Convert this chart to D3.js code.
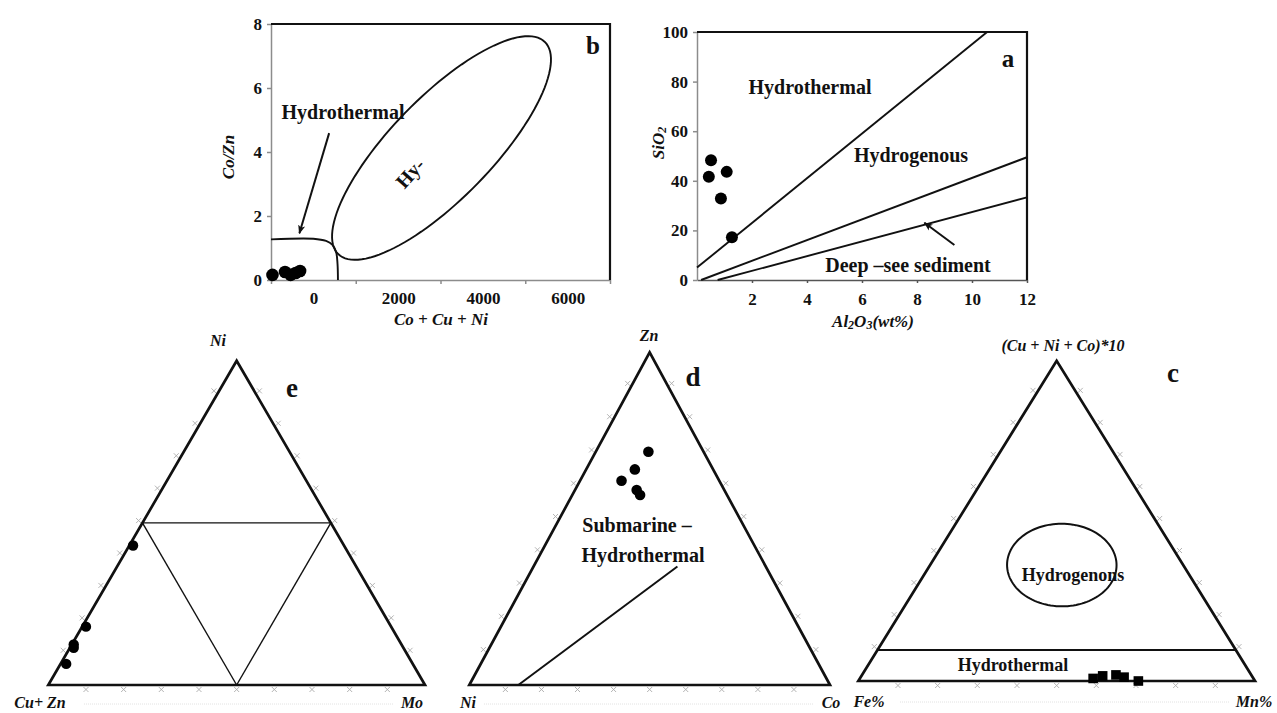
<!DOCTYPE html>
<html><head><meta charset="utf-8">
<script src="https://cdn.jsdelivr.net/npm/d3@7"></script>
<style>
body{margin:0;background:#fff;}
svg{display:block;font-family:"Liberation Serif","Times New Roman",serif;}
</style></head><body>
<svg id="chart" width="1277" height="713"></svg>
<script>
// ---------- Panel b : Co/Zn vs Co+Cu+Ni ----------
const bSumCoCuNi = [-965, -669, -538, -420, -314];
const bCoZn = [0.16, 0.25, 0.16, 0.22, 0.28];
const bXTickValues = [-1000, 1000, 3000, 5000, 7000];
const bXTickLabels = [0, 2000, 4000, 6000];
const bYTickLabels = [0, 2, 4, 6, 8];
const bHydrothermalBoundary = [[-1000,1.27],[0,1.29],[300,1.22],[450,1.1],[540,0.85],[570,0.5],[580,0]];
const bHydrogenousCenter = [3024, 4.125];
const bHydrogenousMajorTip = [5462, 7.44];
const bHydrogenousMinorTip = [2170, 5.23];
const bArrow = [[372, 4.59], [-330, 1.46]];

// ---------- Panel a : SiO2 vs Al2O3 ----------
const aAl2O3 = [0.51, 0.43, 1.08, 0.87, 1.27];
const aSiO2 = [48.3, 41.6, 43.6, 32.9, 17.2];
const aXTickLabels = [2, 4, 6, 8, 10, 12];
const aYTickLabels = [0, 20, 40, 60, 80, 100];
const aBoundaries = [[[0, 5], [10.55, 100]], [[0.15, 0], [12, 49.5]], [[0.75, 0], [12, 33.3]]];
const aArrow = [[9.36, 14.1], [8.27, 23.1]];

// ---------- Panel e : Cu+Zn – Ni – Mo ----------
const eApices = ["Cu+ Zn", "Ni", "Mo"];
const eCuZn = [0.56, 0.81, 0.87, 0.875, 0.92];
const eNi   = [0.43, 0.18, 0.125, 0.115, 0.065];
const eMo   = [0.01, 0.01, 0.005, 0.01, 0.015];
const eFieldLines = [[[0.5,0.5,0],[0,0.5,0.5]], [[0.5,0.5,0],[0.5,0,0.5]], [[0,0.5,0.5],[0.5,0,0.5]]];

// ---------- Panel d : Ni – Zn – Co ----------
const dApices = ["Ni", "Zn", "Co"];
const dNi = [0.153, 0.217, 0.271, 0.243, 0.241];
const dZn = [0.701, 0.648, 0.614, 0.586, 0.571];
const dCo = [0.146, 0.135, 0.115, 0.171, 0.188];
const dFieldLine = [[0.864, 0, 0.136], [0.245, 0.356, 0.399]];

// ---------- Panel c : Fe – (Cu+Ni+Co)*10 – Mn ----------
const cApices = ["Fe%", "(Cu + Ni + Co)*10", "Mn%"];
const cFe  = [0.404, 0.376, 0.341, 0.324, 0.294];
const cCuNiCo = [0.008, 0.016, 0.019, 0.012, 0.0];
const cMn  = [0.588, 0.608, 0.640, 0.664, 0.706];
const cHydrothermalLimit = [[0.903, 0.097, 0], [0, 0.097, 0.903]];
const cHydrogenousCenter = [0.306, 0.362, 0.332];
const cHydrogenousRight  = [0.168, 0.362, 0.470];
const cHydrogenousTop    = [0.242, 0.491, 0.267];

// ================= drawing =================
const svg = d3.select("#chart");
const FONT = '"Liberation Serif","Times New Roman",serif';

function txt(g, x, y, s, o = {}) {
  const t = g.append("text").attr("x", x).attr("y", y)
    .attr("text-anchor", o.anchor || "middle")
    .attr("dominant-baseline", "central")
    .attr("font-family", FONT)
    .attr("font-size", o.size || 16)
    .attr("font-weight", o.weight || "bold")
    .attr("font-style", o.italic ? "italic" : "normal")
    .attr("fill", "#111");
  if (o.rotate !== undefined) t.attr("transform", `rotate(${o.rotate},${x},${y})`);
  t.text(s);
  return t;
}
function styleTicks(sel) {
  sel.selectAll("text").attr("font-family", FONT).attr("font-size", 17)
    .attr("font-weight", "bold").attr("fill", "#111");
}

svg.append("defs").append("marker").attr("id", "arr")
  .attr("viewBox", "0 0 10 10").attr("refX", 9).attr("refY", 5)
  .attr("markerWidth", 9).attr("markerHeight", 9).attr("orient", "auto-start-reverse")
  .attr("markerUnits", "userSpaceOnUse")
  .append("path").attr("d", "M0,1 L10,5 L0,9 L2.5,5 Z").attr("fill", "#111");

// ---------- Panel b ----------
{
  const x = d3.scaleLinear().domain([-1000, 7000]).range([271, 610]);
  const y = d3.scaleLinear().domain([0, 8]).range([280, 24]);
  const g = svg.append("g");
  const ax = g.append("g").attr("transform", "translate(0,280)")
    .call(d3.axisBottom(x).tickValues(bXTickValues).tickFormat("").tickSize(4).tickSizeOuter(0));
  ax.selectAll("path,line").attr("stroke", "#8c8c8c").attr("stroke-width", 1.5);
  const axl = g.append("g").attr("transform", "translate(0,280)")
    .call(d3.axisBottom(x).tickValues(bXTickLabels).tickFormat(d3.format("d")).tickSize(0).tickPadding(12));
  axl.select("path").remove();
  styleTicks(axl);
  const ay = g.append("g").attr("transform", "translate(271,0)")
    .call(d3.axisLeft(y).tickValues(bYTickLabels).tickSize(4).tickSizeOuter(0).tickPadding(5));
  ay.selectAll("path,line").attr("stroke", "#8c8c8c").attr("stroke-width", 1.5);
  styleTicks(ay);
  g.append("path").attr("d", `M${x(-1000)},${y(8)}H${x(7000)}V${y(0)}`)
    .attr("fill", "none").attr("stroke", "#111").attr("stroke-width", 2.2);
  g.append("path").attr("d", d3.line().x(d => x(d[0])).y(d => y(d[1])).curve(d3.curveCatmullRom)(bHydrothermalBoundary))
    .attr("fill", "none").attr("stroke", "#111").attr("stroke-width", 1.9);
  const ell = d3.range(0, 361, 3).map(a => {
    const r = a * Math.PI / 180;
    return [bHydrogenousCenter[0] + (bHydrogenousMajorTip[0] - bHydrogenousCenter[0]) * Math.cos(r) + (bHydrogenousMinorTip[0] - bHydrogenousCenter[0]) * Math.sin(r),
            bHydrogenousCenter[1] + (bHydrogenousMajorTip[1] - bHydrogenousCenter[1]) * Math.cos(r) + (bHydrogenousMinorTip[1] - bHydrogenousCenter[1]) * Math.sin(r)];
  });
  g.append("path").attr("d", d3.line().x(d => x(d[0])).y(d => y(d[1])).curve(d3.curveLinearClosed)(ell))
    .attr("fill", "none").attr("stroke", "#111").attr("stroke-width", 1.9);
  g.append("line").attr("x1", x(bArrow[0][0])).attr("y1", y(bArrow[0][1]))
    .attr("x2", x(bArrow[1][0])).attr("y2", y(bArrow[1][1]))
    .attr("stroke", "#111").attr("stroke-width", 2).attr("marker-end", "url(#arr)");
  g.selectAll("circle.b").data(bSumCoCuNi).join("circle")
    .attr("cx", d => x(d)).attr("cy", (d, i) => y(bCoZn[i])).attr("r", 6.3).attr("fill", "#000");
  txt(g, 343, 112, "Hydrothermal", { size: 20 });
  txt(g, 410, 173, "Hy-", { size: 20, rotate: -48 });
  txt(g, 593, 45, "b", { size: 25 });
  txt(g, 228, 157, "Co/Zn", { size: 17, italic: true, rotate: -90 });
  txt(g, 441, 319, "Co + Cu + Ni", { size: 17, italic: true });
}

// ---------- Panel a ----------
{
  const x = d3.scaleLinear().domain([0, 12]).range([697, 1027]);
  const y = d3.scaleLinear().domain([0, 100]).range([280, 32]);
  const g = svg.append("g");
  const ax = g.append("g").attr("transform", "translate(0,280)")
    .call(d3.axisBottom(x).tickValues(aXTickLabels).tickSize(3).tickSizeOuter(0).tickPadding(10));
  ax.selectAll("path,line").attr("stroke", "#555").attr("stroke-width", 1.5);
  styleTicks(ax);
  const ay = g.append("g").attr("transform", "translate(697,0)")
    .call(d3.axisLeft(y).tickValues(aYTickLabels).tickSize(4).tickSizeOuter(0).tickPadding(5));
  ay.selectAll("path,line").attr("stroke", "#8c8c8c").attr("stroke-width", 1.5);
  styleTicks(ay);
  g.append("path").attr("d", `M${x(0)},${y(100)}H${x(12)}V${y(0)}`)
    .attr("fill", "none").attr("stroke", "#111").attr("stroke-width", 2.2);
  aBoundaries.forEach(seg => {
    g.append("line").attr("x1", x(seg[0][0])).attr("y1", y(seg[0][1]))
      .attr("x2", x(seg[1][0])).attr("y2", y(seg[1][1]))
      .attr("stroke", "#111").attr("stroke-width", 1.9);
  });
  g.append("line").attr("x1", x(aArrow[0][0])).attr("y1", y(aArrow[0][1]))
    .attr("x2", x(aArrow[1][0])).attr("y2", y(aArrow[1][1]))
    .attr("stroke", "#111").attr("stroke-width", 2).attr("marker-end", "url(#arr)");
  g.selectAll("circle.a").data(aAl2O3).join("circle")
    .attr("cx", d => x(d)).attr("cy", (d, i) => y(aSiO2[i])).attr("r", 6).attr("fill", "#000");
  txt(g, 810, 87, "Hydrothermal", { size: 20 });
  txt(g, 911, 155, "Hydrogenous", { size: 20 });
  txt(g, 908, 265, "Deep \u2013see sediment", { size: 20 });
  txt(g, 1008, 58, "a", { size: 25 });
  const t1 = txt(g, 658, 143, "", { size: 17, italic: true, rotate: -90 });
  t1.append("tspan").text("SiO");
  t1.append("tspan").attr("font-size", 12).attr("dy", 4).text("2");
  const t2 = txt(g, 873, 321, "", { size: 17, italic: true });
  t2.append("tspan").text("Al");
  t2.append("tspan").attr("font-size", 12).attr("dy", 4).text("2");
  t2.append("tspan").attr("dy", -4).text("O");
  t2.append("tspan").attr("font-size", 12).attr("dy", 4).text("3");
  t2.append("tspan").attr("dy", -4).text("(wt%)");
}

// ---------- Ternary helper ----------
function ternary(geom) {
  const xs = d3.scaleLinear().domain([0, 1]).range([geom.left, geom.right]);
  const ys = d3.scaleLinear().domain([0, 1]).range([geom.base, geom.top]);
  const p = c => { const s = c[0] + c[1] + c[2]; const t = c[1] / s, r = c[2] / s; return [xs(r + t / 2), ys(t)]; };
  const g = svg.append("g");
  const ticks = d3.range(1, 10).map(i => i / 10);
  const A = [1, 0, 0], B = [0, 1, 0], C = [0, 0, 1];
  const edges = [[A, B], [B, C], [A, C]];
  const centroid = p([1, 1, 1]);
  edges.forEach(([u, v]) => {
    ticks.forEach(f => {
      const c = [0, 1, 2].map(k => u[k] * (1 - f) + v[k] * f);
      const [px, py] = p(c);
      const dx = px - centroid[0], dy = py - centroid[1];
      const [ax_, ay_] = p(u), [bx_, by_] = p(v);
      let nx = -(by_ - ay_), ny = bx_ - ax_;
      const nl = Math.hypot(nx, ny); nx /= nl; ny /= nl;
      if (nx * dx + ny * dy < 0) { nx = -nx; ny = -ny; }
      const ox = px + nx * 4.5, oy = py + ny * 4.5;
      g.append("path")
        .attr("d", `M${ox - 2.5},${oy - 2.5}L${ox + 2.5},${oy + 2.5}M${ox - 2.5},${oy + 2.5}L${ox + 2.5},${oy - 2.5}`)
        .attr("stroke", "#ababab").attr("stroke-width", 0.9);
    });
  });
  g.append("path").attr("d", d3.line()([p(A), p(B), p(C)]) + "Z")
    .attr("fill", "none").attr("stroke", "#111").attr("stroke-width", 2.7).attr("stroke-linejoin", "miter");
  return { g, p };
}

// ---------- Panel e ----------
{
  const { g, p } = ternary({ left: 48.3, right: 425, base: 685, top: 360.7 });
  eFieldLines.forEach(seg => {
    const [a, b] = seg.map(p);
    g.append("line").attr("x1", a[0]).attr("y1", a[1]).attr("x2", b[0]).attr("y2", b[1])
      .attr("stroke", "#111").attr("stroke-width", 1.4);
  });
  g.selectAll("circle.e").data(eCuZn).join("circle")
    .attr("cx", (d, i) => p([d, eNi[i], eMo[i]])[0]).attr("cy", (d, i) => p([d, eNi[i], eMo[i]])[1])
    .attr("r", 5.2).attr("fill", "#000");
  g.append("line").attr("x1", 84).attr("x2", 394).attr("y1", 704).attr("y2", 704)
    .attr("stroke", "#e2e2e2").attr("stroke-dasharray", "1,1");
  txt(g, 40, 702, eApices[0], { size: 16, italic: true });
  txt(g, 218, 340, eApices[1], { size: 16, italic: true });
  txt(g, 412, 702, eApices[2], { size: 16, italic: true });
  txt(g, 292, 388, "e", { size: 27 });
}

// ---------- Panel d ----------
{
  const { g, p } = ternary({ left: 469.3, right: 830, base: 685, top: 352.3 });
  const [a, b] = dFieldLine.map(p);
  g.append("line").attr("x1", a[0]).attr("y1", a[1]).attr("x2", b[0]).attr("y2", b[1])
    .attr("stroke", "#111").attr("stroke-width", 2);
  g.selectAll("circle.d").data(dNi).join("circle")
    .attr("cx", (d, i) => p([d, dZn[i], dCo[i]])[0]).attr("cy", (d, i) => p([d, dZn[i], dCo[i]])[1])
    .attr("r", 5.3).attr("fill", "#000");
  g.append("line").attr("x1", 484).attr("x2", 814).attr("y1", 704).attr("y2", 704)
    .attr("stroke", "#e2e2e2").attr("stroke-dasharray", "1,1");
  txt(g, 468, 702, dApices[0], { size: 16, italic: true });
  txt(g, 649, 335, dApices[1], { size: 16, italic: true });
  txt(g, 831, 702, dApices[2], { size: 16, italic: true });
  txt(g, 693, 377, "d", { size: 27 });
  txt(g, 637, 525, "Submarine \u2013", { size: 20 });
  txt(g, 643, 555, "Hydrothermal", { size: 20 });
}

// ---------- Panel c ----------
{
  const { g, p } = ternary({ left: 858.3, right: 1255, base: 681, top: 360.7 });
  const [a, b] = cHydrothermalLimit.map(p);
  g.append("line").attr("x1", a[0]).attr("y1", a[1]).attr("x2", b[0]).attr("y2", b[1])
    .attr("stroke", "#111").attr("stroke-width", 2);
  const c0 = p(cHydrogenousCenter), cr = p(cHydrogenousRight), ct = p(cHydrogenousTop);
  const ell = d3.range(0, 361, 3).map(deg => {
    const r = deg * Math.PI / 180;
    return [c0[0] + (cr[0] - c0[0]) * Math.cos(r) + (ct[0] - c0[0]) * Math.sin(r),
            c0[1] + (cr[1] - c0[1]) * Math.cos(r) + (ct[1] - c0[1]) * Math.sin(r)];
  });
  g.append("path").attr("d", d3.line().curve(d3.curveLinearClosed)(ell))
    .attr("fill", "none").attr("stroke", "#111").attr("stroke-width", 2);
  g.selectAll("rect.c").data(cFe).join("rect")
    .attr("x", (d, i) => p([d, cCuNiCo[i], cMn[i]])[0] - 4.8)
    .attr("y", (d, i) => p([d, cCuNiCo[i], cMn[i]])[1] - 4.8)
    .attr("width", 9.6).attr("height", 9.6).attr("fill", "#000");
  g.append("line").attr("x1", 900).attr("x2", 1230).attr("y1", 702).attr("y2", 702)
    .attr("stroke", "#e2e2e2").attr("stroke-dasharray", "1,1");
  txt(g, 869, 701, cApices[0], { size: 16, italic: true });
  txt(g, 1063, 345, cApices[1], { size: 16, italic: true });
  txt(g, 1254, 701, cApices[2], { size: 16, italic: true });
  txt(g, 1173, 373, "c", { size: 27 });
  txt(g, 1073, 575, "Hydrogenons", { size: 18 });
  txt(g, 1013, 665, "Hydrothermal", { size: 18 });
}
</script>
</body></html>
